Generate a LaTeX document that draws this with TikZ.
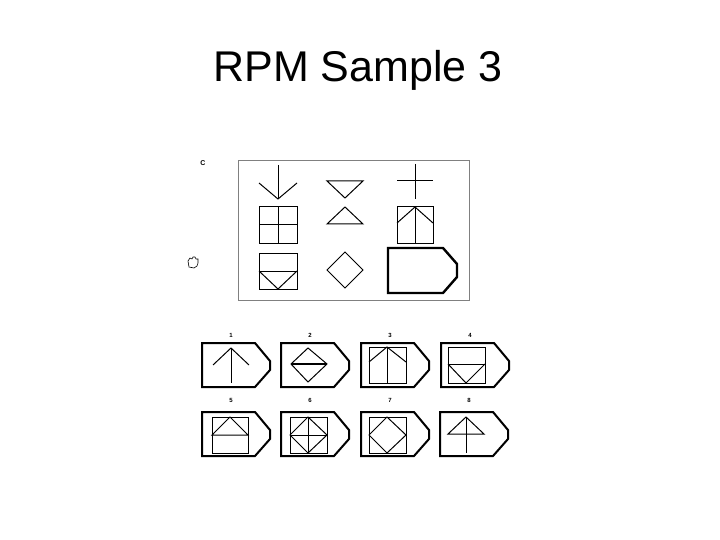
\documentclass[tikz,border=0pt]{standalone}
\usepackage{fontspec}
\setmainfont{Liberation Sans}
\usetikzlibrary{positioning}

\tikzset{
  thin line/.style={line width=1pt},
  tab/.pic={\draw[line width=2pt] (0,0)--(53,0)--(68,18)--(68,27)--(53,44)--(0,44)--cycle;},
  numlabel/.style={font=\fontsize{6}{7}\selectfont\bfseries}
}

\begin{document}
\begin{tikzpicture}[x=1pt,y=-1pt,every node/.style={inner sep=0pt}]
\useasboundingbox (0,0) rectangle (720,540);
\node (title) at (358,70) {\fontsize{43}{50}\selectfont RPM Sample 3};
% problem frame
\draw[line width=.8pt,gray] (238,160) rectangle (469,300);
\node[font=\fontsize{7}{8}\selectfont\bfseries] (cmark) at (203,163) {C};
\draw[line width=.6pt] (189,267)--(188,261)--(190,258)--(192,259)--(193,257)--(195,257)--(196,259)--(198,259)--(198,263)--(197,266)--(194,268)--cycle;
% row 1
\draw[thin line] (278,165)--(278,199);
\draw[thin line] (259,183)--(278,199)--(297,183);
\draw[thin line] (327,181)--(363,181)--(345,198)--cycle;
\draw[thin line] (397,181)--(433,181);
\draw[thin line] (415,164)--(415,199);
% row 2
\draw[thin line] (259,207) rectangle (297,243);
\draw[thin line] (278,207)--(278,243);
\draw[thin line] (259,225)--(297,225);
\draw[thin line] (327,224)--(363,224)--(345,207)--cycle;
\draw[thin line] (397,207) rectangle (433,243);
\draw[thin line] (415,207)--(415,243);
\draw[thin line] (397,223)--(415,207)--(433,223);
% row 3
\draw[thin line] (259,253) rectangle (297,289);
\draw[thin line] (259,271)--(297,271);
\draw[thin line] (259,271)--(278,289)--(297,271);
\draw[thin line] (345,252)--(363,270)--(345,288)--(327,270)--cycle;
\draw[line width=2.4pt] (388,248)--(443,248)--(457,264)--(457,277)--(443,293)--(388,293)--cycle;
% answers
\foreach \x/\n in {202/1,281/2,361/3,441/4}{
  \pic at (\x,343) {tab};
  \node[numlabel] (num\n) at (\x+29,335) {\n};
}
\foreach \x/\n in {202/5,281/6,361/7,440/8}{
  \pic at (\x,412) {tab};
  \node[numlabel] (num\n) at (\x+29,400) {\n};
}
% answer 1
\draw[thin line] (231,348)--(231,383);
\draw[thin line] (213,365)--(231,348)--(249,365);
% answer 2
\draw[thin line] (308,348)--(327,364)--(308,382)--(291,364)--cycle;
\draw[line width=1.4pt] (291,364)--(327,364);
% answer 3
\draw[thin line] (369,347) rectangle (406,383);
\draw[thin line] (387,347)--(387,383);
\draw[thin line] (369,362)--(387,347)--(406,362);
% answer 4
\draw[thin line] (448,347) rectangle (485,383);
\draw[thin line] (448,364)--(485,364);
\draw[thin line] (448,364)--(466,383)--(485,364);
% answer 5
\draw[thin line] (212,417) rectangle (248,453);
\draw[thin line] (212,435)--(248,435)--(230,417)--cycle;
% answer 6
\draw[thin line] (290,417) rectangle (327,453);
\draw[thin line] (308,417)--(327,435)--(308,453)--(290,435)--cycle;
\draw[thin line] (308,417)--(308,453);
\draw[thin line] (290,435)--(327,435);
% answer 7
\draw[thin line] (369,417) rectangle (406,453);
\draw[thin line] (387,417)--(406,435)--(387,453)--(369,435)--cycle;
% answer 8
\draw[thin line] (448,434)--(484,434)--(466,417)--cycle;
\draw[thin line] (466,417)--(466,453);
\end{tikzpicture}
\end{document}
